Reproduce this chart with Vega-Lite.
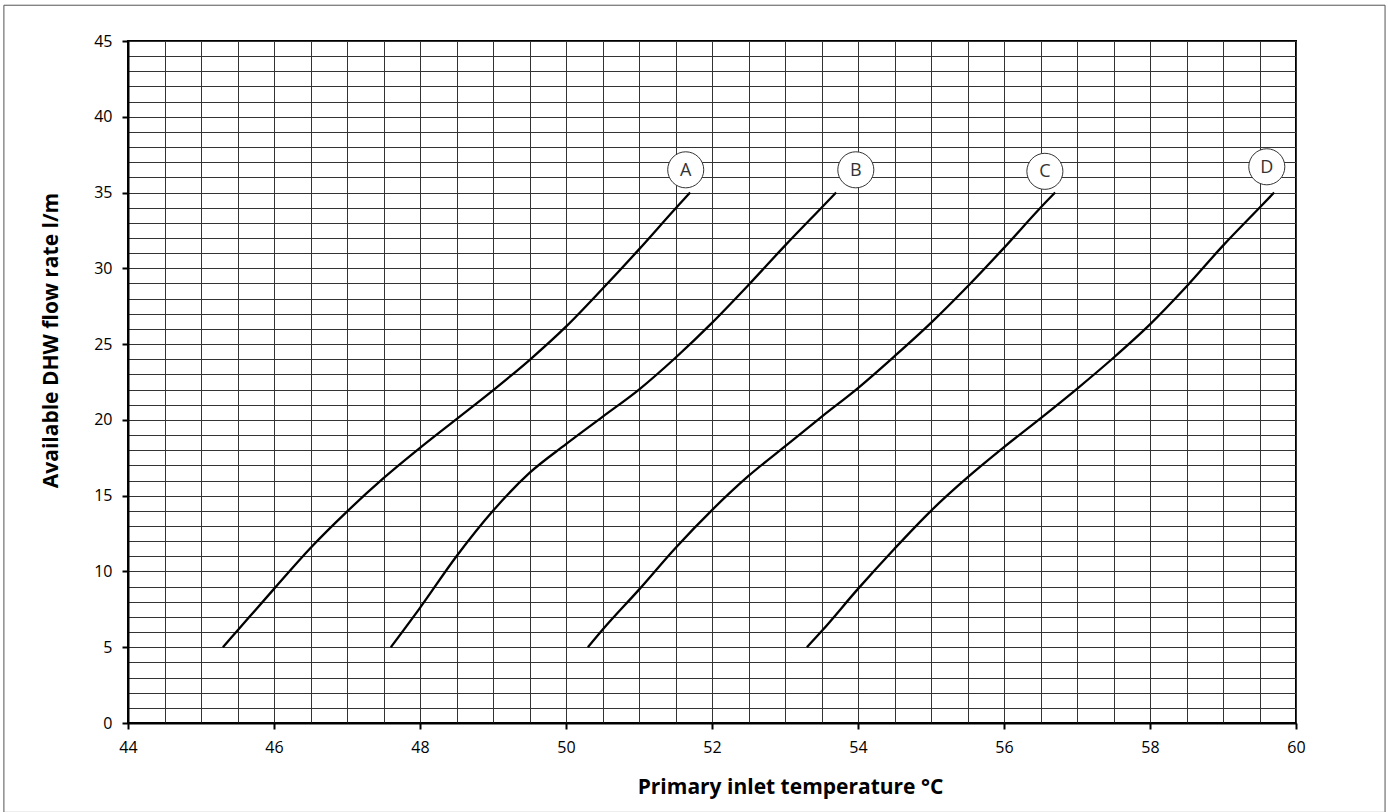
{
  "$schema": "https://vega.github.io/schema/vega-lite/v6.json",
  "width": 1168,
  "height": 682,
  "autosize": "none",
  "padding": {"left": 128, "top": 41, "right": 92, "bottom": 89},
  "background": "white",
  "config": {"view": {"stroke": "#000", "strokeWidth": 2}, "font": "Open Sans"},
  "datasets": {
    "curves": [
      {"curve": "A", "t": 45.3, "q": 5}, {"curve": "A", "t": 45.5, "q": 6.1}, {"curve": "A", "t": 46, "q": 8.85}, {"curve": "A", "t": 46.5, "q": 11.55}, {"curve": "A", "t": 47, "q": 13.95}, {"curve": "A", "t": 47.5, "q": 16.15}, {"curve": "A", "t": 48, "q": 18.15}, {"curve": "A", "t": 48.5, "q": 20.05}, {"curve": "A", "t": 49, "q": 21.95}, {"curve": "A", "t": 49.5, "q": 23.95}, {"curve": "A", "t": 50, "q": 26.15}, {"curve": "A", "t": 50.5, "q": 28.65}, {"curve": "A", "t": 51, "q": 31.25}, {"curve": "A", "t": 51.5, "q": 33.95}, {"curve": "A", "t": 51.7, "q": 35},
      {"curve": "B", "t": 47.6, "q": 5}, {"curve": "B", "t": 48, "q": 7.6}, {"curve": "B", "t": 48.5, "q": 11.0}, {"curve": "B", "t": 49, "q": 14.0}, {"curve": "B", "t": 49.5, "q": 16.5}, {"curve": "B", "t": 50, "q": 18.4}, {"curve": "B", "t": 50.5, "q": 20.2}, {"curve": "B", "t": 51, "q": 22.0}, {"curve": "B", "t": 51.5, "q": 24.1}, {"curve": "B", "t": 52, "q": 26.4}, {"curve": "B", "t": 52.5, "q": 28.9}, {"curve": "B", "t": 53, "q": 31.5}, {"curve": "B", "t": 53.5, "q": 34.0}, {"curve": "B", "t": 53.7, "q": 35},
      {"curve": "C", "t": 50.3, "q": 5}, {"curve": "C", "t": 50.5, "q": 6.15}, {"curve": "C", "t": 51, "q": 8.8}, {"curve": "C", "t": 51.5, "q": 11.55}, {"curve": "C", "t": 52, "q": 14.05}, {"curve": "C", "t": 52.5, "q": 16.3}, {"curve": "C", "t": 53, "q": 18.25}, {"curve": "C", "t": 53.5, "q": 20.2}, {"curve": "C", "t": 54, "q": 22.1}, {"curve": "C", "t": 54.5, "q": 24.2}, {"curve": "C", "t": 55, "q": 26.4}, {"curve": "C", "t": 55.5, "q": 28.8}, {"curve": "C", "t": 56, "q": 31.35}, {"curve": "C", "t": 56.5, "q": 34.0}, {"curve": "C", "t": 56.7, "q": 35},
      {"curve": "D", "t": 53.3, "q": 5}, {"curve": "D", "t": 53.5, "q": 6.05}, {"curve": "D", "t": 54, "q": 8.85}, {"curve": "D", "t": 54.5, "q": 11.5}, {"curve": "D", "t": 55, "q": 14.0}, {"curve": "D", "t": 55.5, "q": 16.2}, {"curve": "D", "t": 56, "q": 18.2}, {"curve": "D", "t": 56.5, "q": 20.1}, {"curve": "D", "t": 57, "q": 22.05}, {"curve": "D", "t": 57.5, "q": 24.1}, {"curve": "D", "t": 58, "q": 26.3}, {"curve": "D", "t": 58.5, "q": 28.8}, {"curve": "D", "t": 59, "q": 31.5}, {"curve": "D", "t": 59.5, "q": 34.0}, {"curve": "D", "t": 59.7, "q": 35}
    ],
    "labels": [
      {"curve": "A", "t": 51.64, "q": 36.5},
      {"curve": "B", "t": 53.97, "q": 36.5},
      {"curve": "C", "t": 56.56, "q": 36.4},
      {"curve": "D", "t": 59.6, "q": 36.7}
    ]
  },
  "layer": [
    {
      "data": {"name": "curves"},
      "mark": {"type": "line", "color": "#000", "strokeWidth": 2.3, "interpolate": "monotone"},
      "encoding": {
        "x": {
          "field": "t", "type": "quantitative",
          "scale": {"domain": [44, 60], "nice": false, "zero": false},
          "axis": {
            "values": [44, 44.5, 45, 45.5, 46, 46.5, 47, 47.5, 48, 48.5, 49, 49.5, 50, 50.5, 51, 51.5, 52, 52.5, 53, 53.5, 54, 54.5, 55, 55.5, 56, 56.5, 57, 57.5, 58, 58.5, 59, 59.5, 60],
            "tickCount": 200,
            "grid": true, "gridColor": "#333", "gridWidth": 1, "gridOpacity": 1,
            "labelExpr": "datum.value % 2 === 0 ? format(datum.value, 'd') : ''",
            "labelOverlap": false, "labelFlush": false,
            "labelFontSize": 16, "labelColor": "#000", "labelPadding": 10,
            "tickColor": "#000", "tickWidth": 2, "tickSize": 6,
            "tickOpacity": {"condition": {"test": "datum.value % 2 === 0", "value": 1}, "value": 0},
            "domainColor": "#000", "domainWidth": 2,
            "title": "Primary inlet temperature °C",
            "titleFontSize": 21, "titleFontWeight": "bold", "titleColor": "#000",
            "titleX": 662, "titleY": 70, "titleBaseline": "alphabetic", "titleAlign": "center", "titleAnchor": null
          }
        },
        "y": {
          "field": "q", "type": "quantitative",
          "scale": {"domain": [0, 45], "nice": false, "zero": false},
          "axis": {
            "values": [0, 1, 2, 3, 4, 5, 6, 7, 8, 9, 10, 11, 12, 13, 14, 15, 16, 17, 18, 19, 20, 21, 22, 23, 24, 25, 26, 27, 28, 29, 30, 31, 32, 33, 34, 35, 36, 37, 38, 39, 40, 41, 42, 43, 44, 45],
            "tickCount": 200,
            "grid": true, "gridColor": "#333", "gridWidth": 1, "gridOpacity": 1,
            "labelExpr": "datum.value % 5 === 0 ? format(datum.value, 'd') : ''",
            "labelOverlap": false, "labelFlush": false,
            "labelFontSize": 16, "labelColor": "#000", "labelPadding": 10,
            "tickColor": "#000", "tickWidth": 2, "tickSize": 6,
            "tickOpacity": {"condition": {"test": "datum.value % 5 === 0", "value": 1}, "value": 0},
            "domainColor": "#000", "domainWidth": 2,
            "title": "Available DHW flow rate l/m",
            "titleFontSize": 21, "titleFontWeight": "bold", "titleColor": "#000",
            "titleX": -71, "titleY": 299, "titleBaseline": "alphabetic", "titleAlign": "center", "titleAngle": -90, "titleAnchor": null
          }
        },
        "detail": {"field": "curve"}
      }
    },
    {
      "data": {"name": "labels"},
      "mark": {"type": "point", "shape": "circle", "filled": true, "fill": "#fff", "stroke": "#333", "strokeWidth": 1, "size": 1300, "opacity": 1},
      "encoding": {
        "x": {"field": "t", "type": "quantitative"},
        "y": {"field": "q", "type": "quantitative"}
      }
    },
    {
      "data": {"name": "labels"},
      "mark": {"type": "text", "fontSize": 18, "color": "#333", "align": "center", "baseline": "middle", "dy": 1},
      "encoding": {
        "x": {"field": "t", "type": "quantitative"},
        "y": {"field": "q", "type": "quantitative"},
        "text": {"field": "curve"}
      }
    },
    {
      "data": {"values": [{}]},
      "mark": {"type": "rect", "fill": null, "stroke": "#555", "strokeWidth": 1, "clip": false},
      "encoding": {
        "x": {"datum": 42.3, "type": "quantitative"},
        "x2": {"datum": 61.22},
        "y": {"datum": 47.36, "type": "quantitative"},
        "y2": {"datum": -5.9}
      }
    }
  ]
}
